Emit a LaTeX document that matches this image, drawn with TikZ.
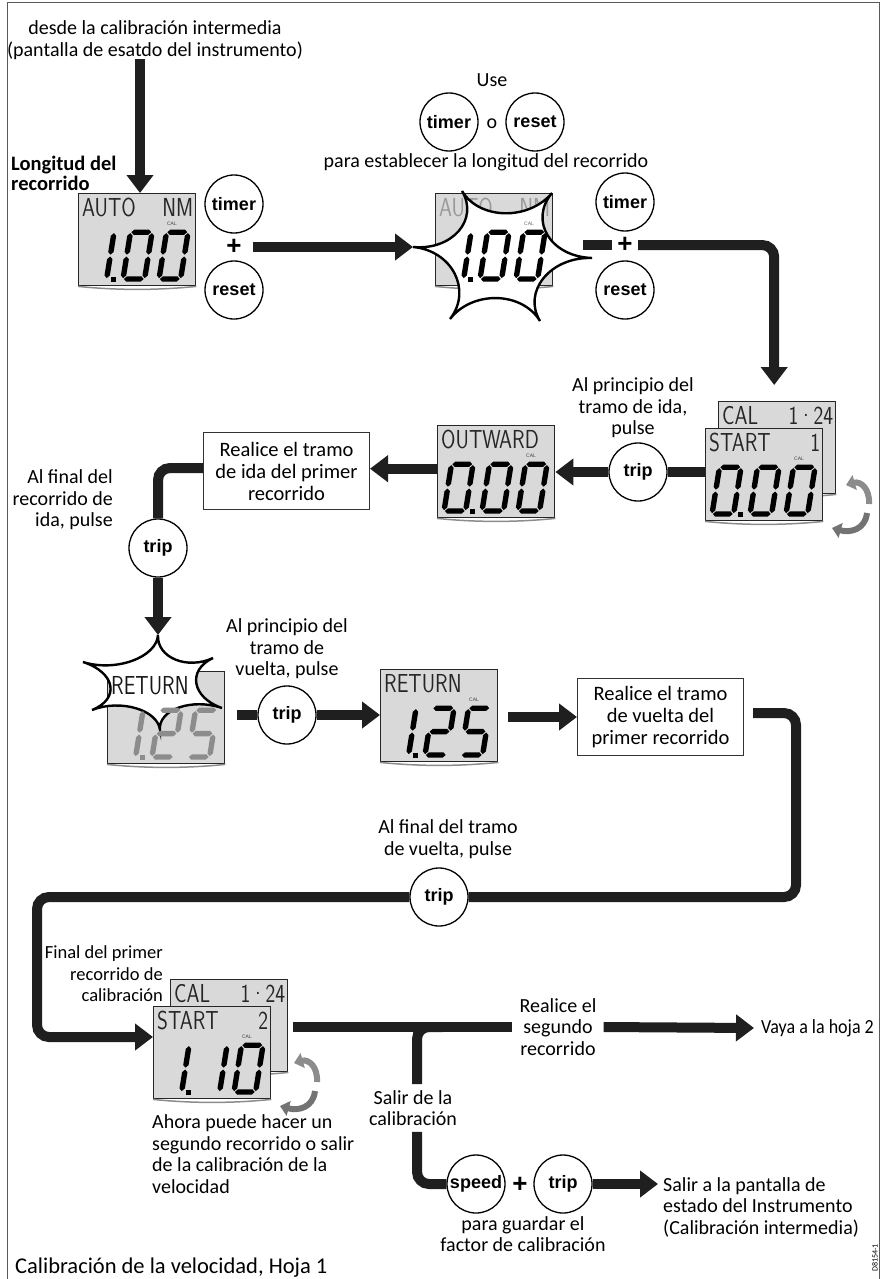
\documentclass[tikz,border=0pt]{standalone}
\usepackage{fontspec}
\usepackage{graphicx}
\setmainfont{Carlito}
\newfontfamily\btnf{Liberation Sans}
\usetikzlibrary{arrows.meta,calc}

\def\sga{(1,-52) -- (4,-55) -- (20,-55) -- (23,-52) -- (20,-49) -- (4,-49) -- cycle}
\def\sgg{(1,-26) -- (4,-29) -- (20,-29) -- (23,-26) -- (20,-23) -- (4,-23) -- cycle}
\def\sgd{(1,0) -- (4,-3) -- (20,-3) -- (23,0) -- (20,3) -- (4,3) -- cycle}
\def\sgf{(0,-51) -- (3,-48) -- (3,-30) -- (0,-27) -- (-3,-30) -- (-3,-48) -- cycle}
\def\sge{(0,-25) -- (3,-22) -- (3,-4) -- (0,-1) -- (-3,-4) -- (-3,-22) -- cycle}
\def\sgb{(24,-51) -- (27,-48) -- (27,-30) -- (24,-27) -- (21,-30) -- (21,-48) -- cycle}
\def\sgc{(24,-25) -- (27,-22) -- (27,-4) -- (24,-1) -- (21,-4) -- (21,-22) -- cycle}

\tikzset{
 frame/.style={draw=black!65, line width=1pt},
 conn/.style={line width=10pt, draw=black!88},
 arr/.style={conn, -{Triangle[length=18pt,width=26pt]}},
 btn/.style={circle, draw=black, line width=1.3pt, minimum size=58pt, inner sep=0pt, fill=white, font=\btnf\bfseries\fontsize{18}{18}\selectfont},
 lbl/.style={inner sep=0pt, align=center, font=\fontsize{20}{21.5}\selectfont},
 lbll/.style={lbl, align=left},
 lblr/.style={lbl, align=right},
 plus/.style={inner sep=0pt, minimum width=26pt, font=\btnf\bfseries\fontsize{26}{26}\selectfont},
 lcd/.style={draw=black!85, line width=1.4pt, fill=black!15, minimum width=117pt, minimum height=92pt, inner sep=0pt, anchor=north west},
 lcdtxt/.style={inner sep=0pt, font=\sffamily\fontsize{26}{26}\selectfont},
 caltxt/.style={inner sep=0pt, font=\btnf\fontsize{5}{5}\selectfont},
 box/.style={draw=black!80, line width=1pt, fill=white, minimum width=166pt, minimum height=77pt, inner sep=0pt, align=center, font=\fontsize{20.5}{22}\selectfont, anchor=north west},
 star/.style={draw=black, line width=2.4pt, fill=white},
 rot/.style={line width=6pt, -{Triangle[length=9pt,width=15pt]}},
}

\newcommand\lcdpanel[2]{%
 \node[lcd] (#1) at (#2) {};
 \draw[black!45, line width=1.5pt] (#1.south west) .. controls ($(#1.south west)+(40,4)$) and ($(#1.south east)+(-40,4)$) .. (#1.south east);}
\newcommand\lcdtop[4]{%
 \node[lcdtxt, text=#4, anchor=base west] (#1-tl) at ($(#1.north west)+(4,23)$) {\scalebox{0.8}[1]{#2}};
 \node[lcdtxt, text=#4, anchor=base east] (#1-tr) at ($(#1.north east)+(-3,23)$) {\scalebox{0.8}[1]{#3}};}
\newcommand\lcdcal[2]{\node[caltxt, text=#2] (#1-cal) at ($(#1.north west)+(94,31)$) {CAL};}
\newcommand\segdig[4]{%
 \begin{scope}[shift={($(#1.north west)+(#2,86)$)}, xslant=0.16, scale=0.9]
 \foreach \s in {#3}{\edef\tmp{\noexpand\fill[#4] \csname sg\s\endcsname;}\tmp}
 \end{scope}}
\newcommand\lcddp[2]{\fill[#2] ($(#1.north west)+(33,84)$) rectangle ++(5,5);}
\newcommand\starc[3]{.. controls ($(#1)!0.45!(#3)$) and ($(#2)!0.45!(#3)$) .. (#2)}
\newcommand\rotarr[1]{%
 \coordinate (#1-rc) at ($(#1.north west)+(147,77)$);
 \draw[rot, black!45] ($(#1-rc)+(17,-1)$) .. controls ($(#1-rc)+(18,-17)$) and ($(#1-rc)+(8,-24)$) .. ($(#1-rc)+(-6,-20)$);
 \draw[rot, black!55] ($(#1-rc)+(15,8)$) .. controls ($(#1-rc)+(13,25)$) and ($(#1-rc)+(-2,28)$) .. ($(#1-rc)+(-20,23)$);}

\begin{document}
\begin{tikzpicture}[x=1pt,y=-1pt]
\useasboundingbox (0,0) rectangle (881,1279);
\draw[frame] (7,1290) -- (7,2.5) -- (879.5,2.5) -- (879.5,1290);

% ---------- top ----------
\node[lbl] (t_from) at (155,40) {desde la calibración intermedia\\(pantalla de esatdo del instrumento)};
\coordinate (a0) at (140,59);
\node[lbll, font=\bfseries\fontsize{20.5}{20}\selectfont, anchor=west] (t_long) at (11,173) {Longitud del\\recorrido};

\lcdpanel{d1}{78,193}
\lcdtop{d1}{AUTO}{NM}{black!85}
\lcdcal{d1}{black!75}
\segdig{d1}{7}{b,c}{black}
\lcddp{d1}{black}
\segdig{d1}{45}{a,b,c,d,e,f}{black}
\segdig{d1}{81}{a,b,c,d,e,f}{black}

\node[btn] (b_timer1) at (234,204) {timer};
\node[plus] (plus1) at (234,247) {+};
\node[btn] (b_reset1) at (234,290) {reset};

\node[lbl] (t_use) at (492,80) {Use};
\node[btn] (b_timer2) at (449,122) {timer};
\node[lbl] (t_o) at (492,124) {o};
\node[btn] (b_reset2) at (535,122) {reset};
\node[lbl] (t_para) at (486,162) {para establecer la longitud del recorrido};

\lcdpanel{d2}{435,193}
\lcdtop{d2}{AUTO}{NM}{black!40}
\coordinate (s2c) at (500,255);
\coordinate (s2p1) at (413,247);
\coordinate (s2p2) at (462,191);
\coordinate (s2p3) at (552,193);
\coordinate (s2p4) at (592,258);
\coordinate (s2p5) at (540,321);
\coordinate (s2p6) at (450,319);
\filldraw[star] (s2p1) \starc{s2p1}{s2p2}{s2c} \starc{s2p2}{s2p3}{s2c} \starc{s2p3}{s2p4}{s2c}
  \starc{s2p4}{s2p5}{s2c} \starc{s2p5}{s2p6}{s2c} \starc{s2p6}{s2p1}{s2c} -- cycle;
\lcdcal{d2}{black!60}
\segdig{d2}{7}{b,c}{black}
\lcddp{d2}{black}
\segdig{d2}{45}{a,b,c,d,e,f}{black}
\segdig{d2}{81}{a,b,c,d,e,f}{black}

\node[btn] (b_timer3) at (625,202) {timer};
\node[plus] (plus3) at (625,245) {+};
\node[btn] (b_reset3) at (625,290) {reset};

% ---------- second row ----------
\lcdpanel{d3b}{718,401}
\lcdtop{d3b}{CAL}{1·24}{black!85}
\lcdpanel{d3}{705,428}
\lcdtop{d3}{START}{1}{black!85}
\lcdcal{d3}{black!75}
\segdig{d3}{7}{a,b,c,d,e,f}{black}
\lcddp{d3}{black}
\segdig{d3}{45}{a,b,c,d,e,f}{black}
\segdig{d3}{81}{a,b,c,d,e,f}{black}
\rotarr{d3}

\node[lbl] (t_ap1) at (633,408) {Al principio del\\tramo de ida,\\pulse};
\node[btn] (b_trip1) at (638,472) {trip};

\lcdpanel{d4}{437,425}
\lcdtop{d4}{OUTWARD}{}{black!85}
\lcdcal{d4}{black!75}
\segdig{d4}{7}{a,b,c,d,e,f}{black}
\lcddp{d4}{black}
\segdig{d4}{45}{a,b,c,d,e,f}{black}
\segdig{d4}{81}{a,b,c,d,e,f}{black}

\node[box] (box1) at (203,432) {Realice el tramo\\de ida del primer\\recorrido};
\node[lblr, anchor=east] (t_af1) at (113,500) {Al final del\\recorrido de\\ida, pulse};
\node[btn] (b_trip2) at (158,548) {trip};

% ---------- third row ----------
\lcdpanel{d5}{107,671}
\lcdcal{d5}{black!45}
\coordinate (s5c) at (155,685);
\coordinate (s5p1) at (158,635);
\coordinate (s5p2) at (213,658);
\coordinate (s5p3) at (222,708);
\coordinate (s5p4) at (160,730);
\coordinate (s5p5) at (92,710);
\coordinate (s5p6) at (83,662);
\filldraw[star] (s5p1) \starc{s5p1}{s5p2}{s5c} \starc{s5p2}{s5p3}{s5c} \starc{s5p3}{s5p4}{s5c}
  \starc{s5p4}{s5p5}{s5c} \starc{s5p5}{s5p6}{s5c} \starc{s5p6}{s5p1}{s5c} -- cycle;
\lcdtop{d5}{RETURN}{}{black!90}
\segdig{d5}{7}{b,c}{black!45}
\lcddp{d5}{black!45}
\segdig{d5}{45}{a,b,g,e,d}{black!45}
\segdig{d5}{81}{a,f,g,c,d}{black!45}

\node[lbl] (t_ap2) at (287,649) {Al principio del\\tramo de\\vuelta, pulse};
\node[btn] (b_trip3) at (287,715) {trip};

\lcdpanel{d6}{380,669}
\lcdtop{d6}{RETURN}{}{black!85}
\lcdcal{d6}{black!75}
\segdig{d6}{7}{b,c}{black}
\lcddp{d6}{black}
\segdig{d6}{45}{a,b,g,e,d}{black}
\segdig{d6}{81}{a,f,g,c,d}{black}

\node[box] (box2) at (577,678) {Realice el tramo\\de vuelta del\\primer recorrido};

\node[lbl] (t_af2) at (448,839) {Al final del tramo\\de vuelta, pulse};
\node[btn] (b_trip4) at (439,897) {trip};
\coordinate (k2) at (796,897);
\coordinate (k3) at (37,1037);

% ---------- bottom ----------
\node[lblr, anchor=east, font=\fontsize{18.5}{21.5}\selectfont] (t_fin) at (163,974) {Final del primer\\recorrido de\\calibración};
\lcdpanel{d7b}{170,979}
\lcdtop{d7b}{CAL}{1·24}{black!85}
\lcdpanel{d7}{153,1006}
\lcdtop{d7}{START}{2}{black!85}
\lcdcal{d7}{black!75}
\segdig{d7}{7}{b,c}{black}
\lcddp{d7}{black}
\segdig{d7}{45}{b,c}{black}
\segdig{d7}{81}{a,b,c,d,e,f}{black}
\rotarr{d7}

\node[lbll, anchor=west] (t_ahora) at (152,1154) {Ahora puede hacer un\\segundo recorrido o salir\\de la calibración de la\\velocidad};

\node[lbl] (t_seg) at (558,1027) {Realice el\\segundo\\recorrido};
\node[lbll, anchor=west] (t_vaya) at (761,1028) {\scalebox{0.9}[1]{Vaya a la hoja 2}};
\node[lbl] (t_salir) at (413,1108) {Salir de la\\calibración};

\node[btn] (b_speed) at (476,1184) {speed};
\node[plus] (plus5) at (520,1185) {+};
\node[btn] (b_trip5) at (563,1184) {trip};
\node[lbl] (t_guardar) at (523,1234) {para guardar el\\factor de calibración};
\node[lbll, anchor=west] (t_salir2) at (663,1207) {Salir a la pantalla de\\estado del Instrumento\\(Calibración intermedia)};

\node[inner sep=0pt, rotate=90, font=\fontsize{8}{8}\selectfont] (t_code) at (875,1258) {D8154-1};
\node[lbll, anchor=west, font=\fontsize{22.5}{22.5}\selectfont] (t_title) at (15,1268) {Calibración de la velocidad, Hoja 1};

% ---------- connectors ----------
\draw[arr] (a0) -- (a0 |- d1.north);
\draw[arr] ($(plus1.east)+(6,0)$) -- (s2p1);
\draw[conn] ($(s2p4 |- plus3)+(-9,0)$) -- (plus3.west);
\draw[arr, rounded corners=12pt] (plus3.east) -| ($(d3b.north)+(-3,-16)$);
\draw[conn] (b_trip1.east) -- (b_trip1 -| d3.west);
\draw[arr] (b_trip1.west) -- (b_trip1 -| d4.east);
\draw[arr] ($(d4.west)+(0,-3)$) -- ($(d4.west -| box1.east)+(0,-3)$);
\draw[conn, rounded corners=12pt] ($(box1.west)+(0,-3)$) -| (b_trip2.north);
\draw[arr] (b_trip2.south) -- (s5p1);
\draw[conn] ($(d5.east |- b_trip3)+(12,0)$) -- (b_trip3.west);
\draw[arr] (b_trip3.east) -- (b_trip3 -| d6.west);
\draw[arr] ($(box2.west -| d6.east)+(10,0)$) -- (box2.west);
\draw[conn, rounded corners=12pt] ($(box2.east)+(9,-4)$) -| (k2) -- (b_trip4.east);
\draw[arr, rounded corners=12pt] (b_trip4.west) -| (k3) -- (k3 -| d7.west);
\draw[conn] ($(d7b.east |- t_seg.west)+(5,0)$) -- ($(t_seg.west)+(-7,0)$);
\draw[arr] ($(t_seg.east)+(7,0)$) -- ($(t_vaya.west)+(-7,0)$);
\draw[conn, rounded corners=12pt] ($(t_salir.north |- t_seg.west)+(30,0)$) -| ($(t_salir.north)+(4,-6)$);
\draw[conn, rounded corners=12pt] ($(t_salir.south)+(4,6)$) |- (b_speed.west);
\draw[arr] (b_trip5.east) -- ($(t_salir2.west |- b_trip5)+(-5,0)$);
\end{tikzpicture}
\end{document}
